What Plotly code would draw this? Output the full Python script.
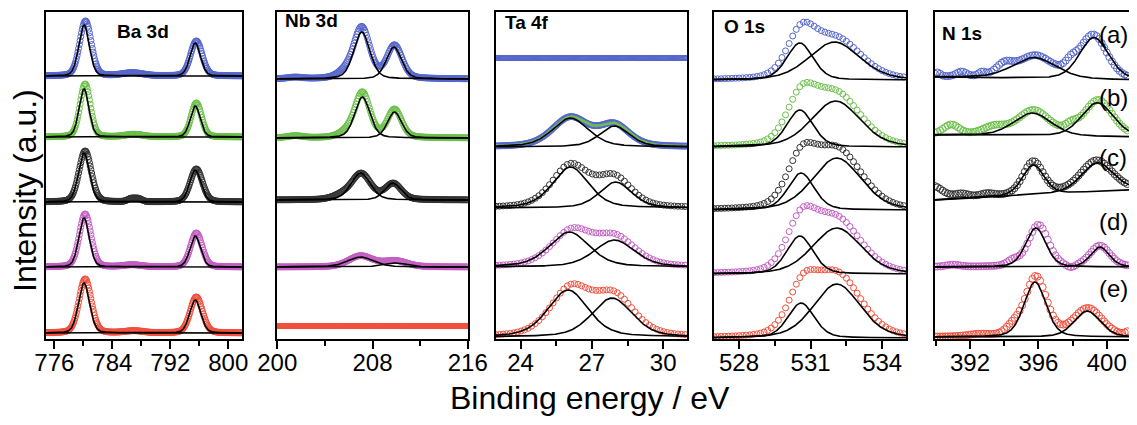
import numpy as np
import plotly.graph_objects as go

# ---------------- data ----------------
PANEL_NAMES = ["Ba 3d", "Nb 3d", "Ta 4f", "O 1s", "N 1s"]
SAMPLE_LABELS = ["(a)", "(b)", "(c)", "(d)", "(e)"]
SAMPLE_COLORS = ["#5566cc", "#6cc04a", "#333333", "#c45ec4", "#f0503c"]

# binding-energy windows (eV)
BA_RANGE = [774.85, 801.9]
NB_RANGE = [199.98, 216.02]
TA_RANGE = [22.97, 31.0]
O_RANGE = [526.95, 535.0]
N_RANGE = [389.95, 401.3]

# vertical offsets of the stacked spectra (a.u.)
BA_OFFSET = [263, 202, 137, 72, 6]
NB_OFFSET = [260, 201, 139, 72, 13]
TA_OFFSET = [281, 192, 131, 72, 2]
O_OFFSET = [259, 192, 129, 65, 1]
N_OFFSET = [262, 204, 139, 72, 2]

# linear background rise across the window (a.u.)
N_BG_RISE = [-3, -2, 10, 0, 0]

# fitted components: (centre eV, height a.u., FWHM eV)
BA_FIT = [
    [(780.1, 51, 1.7), (795.45, 33, 1.7)],
    [(780.1, 48, 1.6), (795.45, 31, 1.6)],
    [(780.1, 49, 1.8), (795.45, 32, 1.8)],
    [(780.1, 49, 1.7), (795.45, 31, 1.7)],
    [(780.1, 50, 1.8), (795.45, 33, 1.8)],
]
NB_FIT = [
    [(207.1, 47, 1.6), (209.8, 32, 1.5)],
    [(207.15, 41, 1.5), (209.85, 26, 1.4)],
    [(207.0, 27, 1.9), (209.7, 17, 1.6)],
    [(207.0, 10, 2.6), (209.9, 4, 2.4)],
    [],
]
TA_FIT = [
    [],
    [(26.1, 29, 1.8), (27.95, 21, 1.5)],
    [(26.1, 41, 1.8), (28.0, 26, 1.6)],
    [(26.05, 35, 2.0), (27.95, 27, 2.0)],
    [(26.0, 47, 2.0), (27.85, 39, 2.0)],
]
O_FIT = [
    [(530.55, 37, 1.3), (532.0, 38, 2.5)],
    [(530.55, 37, 1.3), (532.05, 46, 2.4)],
    [(530.6, 37, 1.3), (532.1, 52, 2.4)],
    [(530.55, 38, 1.3), (532.1, 46, 2.4)],
    [(530.6, 35, 1.3), (532.1, 54, 2.3)],
]
N_FIT = [
    [(395.75, 21, 3.0), (399.25, 42, 2.0)],
    [(395.65, 23, 2.6), (399.45, 34, 2.2)],
    [(395.7, 30, 1.5), (399.45, 29, 2.2)],
    [(395.85, 39, 1.4), (399.6, 20, 1.3)],
    [(395.8, 55, 1.5), (398.85, 26, 1.8)],
]

# measured spectra, described by the features seen in the markers
BA_DATA = [
    [(780.3, 55, 1.9), (795.6, 35, 1.9), (786.8, 3, 3.5)],
    [(780.25, 53, 1.7), (795.6, 34, 1.7), (787.0, 2.5, 3.0)],
    [(780.25, 51, 2.0), (795.6, 33, 2.0), (786.6, 3, 1.2), (787.6, 3, 1.2)],
    [(780.25, 53, 1.9), (795.6, 34, 1.9), (786.8, 2, 3.0)],
    [(780.25, 54, 2.0), (795.6, 36, 2.0), (787.0, 2, 3.0)],
]
NB_DATA = [
    [(207.1, 51, 1.6), (209.85, 33, 1.5), (205.7, 6, 1.6), (201.5, 1.5, 1.5)],
    [(207.15, 45, 1.5), (209.85, 28, 1.4), (205.8, 5, 1.5), (201.5, 2, 1.5)],
    [(207.05, 26, 1.9), (209.75, 16, 1.6), (205.4, 4, 1.8)],
    [(207.0, 11, 2.4), (209.9, 6, 2.4)],
    [],
]
TA_DATA = [
    [],
    [(26.1, 29, 1.8), (27.95, 21, 1.5)],
    [(26.1, 42, 1.85), (27.95, 29, 1.7)],
    [(26.15, 35, 2.0), (28.0, 28, 2.0)],
    [(26.1, 47, 2.0), (27.95, 39, 2.0)],
]
O_DATA = [
    [(530.6, 40, 1.4), (532.05, 41, 2.5)],
    [(530.6, 41, 1.45), (532.05, 53, 2.45)],
    [(530.6, 42, 1.45), (532.1, 60, 2.45)],
    [(530.6, 44, 1.45), (532.05, 55, 2.45)],
    [(530.65, 40, 1.45), (532.1, 63, 2.4)],
]
N_DATA = [
    [(395.8, 22, 2.4), (399.2, 44, 1.9), (391.5, 5, 0.7), (392.7, 4, 0.5),
     (394.0, 11, 1.2), (397.9, 8, 0.8), (390.1, 4, 0.4)],
    [(395.7, 25, 2.2), (399.5, 36, 2.0), (390.9, 10, 1.1), (393.4, 8, 1.6),
     (397.9, 6, 0.8)],
    [(395.7, 33, 1.4), (399.4, 31, 2.2), (389.8, 14, 1.4), (391.5, 4, 1.0),
     (393.0, 3, 1.0)],
    [(396.0, 42, 1.4), (399.6, 21, 1.4), (394.5, 5, 0.8), (391.0, 2, 1.0),
     (397.9, -3, 0.6)],
    [(395.85, 60, 1.5), (398.9, 28, 2.0), (394.5, 8, 1.0), (401.3, 4, 0.5),
     (392.5, 2, 1.5)],
]

# ---------------- drawing ----------------
PANELS = [
    dict(rng=BA_RANGE, off=BA_OFFSET, fit=BA_FIT, dat=BA_DATA, bg=[0] * 5,
         step=0.1, eta=0.2, t0=776, dt=8, mdt=4, msize=6),
    dict(rng=NB_RANGE, off=NB_OFFSET, fit=NB_FIT, dat=NB_DATA, bg=[0] * 5,
         step=0.08, eta=0.3, t0=200, dt=8, mdt=4, msize=6),
    dict(rng=TA_RANGE, off=TA_OFFSET, fit=TA_FIT, dat=TA_DATA, bg=[0] * 5,
         step=0.15, eta=0.4, t0=24, dt=3, mdt=1.5, msize=6),
    dict(rng=O_RANGE, off=O_OFFSET, fit=O_FIT, dat=O_DATA, bg=[0] * 5,
         step=0.15, eta=0.3, t0=528, dt=3, mdt=1.5, msize=6),
    dict(rng=N_RANGE, off=N_OFFSET, fit=N_FIT, dat=N_DATA, bg=N_BG_RISE,
         step=0.15, eta=0.3, t0=392, dt=4, mdt=2, msize=7),
]

# the page body adds an 8 px margin on every side; keep the figure inside
PAD = 8
SCREEN_W, SCREEN_H = 1137, 425
W, H = SCREEN_W - 2 * PAD, SCREEN_H - 2 * PAD
DOMAINS_PX = [(46, 242), (277, 468), (496, 687), (714, 906), (935, SCREEN_W - PAD)]
TOP, BOT = 12, 339  # screen y of plot top / bottom


def pvoigt(x, c, h, w, eta):
    u = (x - c) / w
    return h * ((1 - eta) * np.exp(-4 * np.log(2) * u * u) + eta / (1 + 4 * u * u))


fig = go.Figure()
FONT = "Liberation Sans, Arial, Helvetica, sans-serif"

for k, p in enumerate(PANELS):
    xa = "x" if k == 0 else f"x{k + 1}"
    ya = "y" if k == 0 else f"y{k + 1}"
    lo, hi = p["rng"]
    for s in range(5):
        flat = len(p["dat"][s]) == 0
        step = 0.04 if flat else p["step"]
        x = np.arange(lo, hi + 1e-9, step)
        yd = p["off"][s] + p["bg"][s] * (x - lo) / (hi - lo)
        for (c, h, w) in p["dat"][s]:
            yd = yd + pvoigt(x, c, h, w, p["eta"])
        if k == 2 and s == 1:
            xd = np.arange(lo, hi + 1e-9, 0.05)
            bd = p["off"][s] + 0 * xd
            for (c, h, w) in p["dat"][s]:
                bd = bd + pvoigt(xd, c, h, w, p["eta"])
            fig.add_trace(go.Scatter(x=xd, y=bd, mode="markers", xaxis=xa, yaxis=ya,
                                     marker=dict(symbol="circle-open", size=6,
                                                 color=SAMPLE_COLORS[0], line=dict(width=1)),
                                     showlegend=False, hoverinfo="skip"))
            fig.add_trace(go.Scatter(x=xd, y=bd, mode="lines", xaxis=xa, yaxis=ya,
                                     line=dict(color=SAMPLE_COLORS[1], width=2.5),
                                     showlegend=False, hoverinfo="skip"))
        else:
            fig.add_trace(go.Scatter(x=x, y=yd, mode="markers", xaxis=xa, yaxis=ya,
                                     marker=dict(symbol="circle-open",
                                                 size=5 if flat else p["msize"],
                                                 color=SAMPLE_COLORS[s], line=dict(width=1)),
                                     showlegend=False, hoverinfo="skip"))
    xf = np.linspace(lo, hi, 600)
    for s in range(5):
        bf = p["off"][s] + p["bg"][s] * (xf - lo) / (hi - lo)
        for (c, h, w) in p["fit"][s]:
            fig.add_trace(go.Scatter(x=xf, y=bf + pvoigt(xf, c, h, w, p["eta"]),
                                     mode="lines", xaxis=xa, yaxis=ya,
                                     line=dict(color="black", width=1.6),
                                     showlegend=False, hoverinfo="skip"))

    x0, x1 = DOMAINS_PX[k]
    axx = dict(domain=[(x0 - PAD) / W, min((x1 - PAD) / W, 1.0)], range=[lo, hi],
               anchor=ya, showgrid=False, zeroline=False, showline=True,
               linecolor="black", linewidth=2, mirror=True, ticks="outside",
               ticklen=8, tickwidth=2, tickcolor="black", tick0=p["t0"], dtick=p["dt"],
               ticklabelstandoff=-7,
               tickfont=dict(family=FONT, size=24, color="black"),
               minor=dict(ticks="outside", ticklen=5, tickwidth=2, tickcolor="black",
                          tick0=p["t0"], dtick=p["mdt"], showgrid=False))
    axy = dict(domain=[0, 1], range=[0, BOT - TOP], anchor=xa, showgrid=False,
               zeroline=False, showline=True, linecolor="black", linewidth=2,
               mirror=(k < 4), showticklabels=False, ticks="")
    fig.update_layout(**{("xaxis" if k == 0 else f"xaxis{k + 1}"): axx,
                         ("yaxis" if k == 0 else f"yaxis{k + 1}"): axy})


def px(xs):
    return (xs - PAD) / W


def py(ys):
    return (BOT - ys) / (BOT - TOP)


ann = []
label_pos = [(115, 31), (283, 20), (503, 23), (722, 27), (940, 34)]
for name, (lx, ly) in zip(PANEL_NAMES, label_pos):
    ann.append(dict(x=px(lx), y=py(ly), xref="paper", yref="paper", text=f"<b>{name}</b>",
                    showarrow=False, xanchor="left", yanchor="middle",
                    font=dict(family=FONT, size=19, color="black")))
for lab, ly in zip(SAMPLE_LABELS, [35, 97, 158, 222, 288]):
    ann.append(dict(x=px(1113), y=py(ly), xref="paper", yref="paper", text=lab,
                    showarrow=False, xanchor="center", yanchor="middle",
                    font=dict(family=FONT, size=24, color="black")))
ann.append(dict(x=px(590), y=py(398), xref="paper", yref="paper",
                text="Binding energy / eV", showarrow=False, xanchor="center",
                yanchor="middle", font=dict(family=FONT, size=32, color="black")))
ann.append(dict(x=px(25), y=py(191), xref="paper", yref="paper",
                text="Intensity (a.u.)", showarrow=False, textangle=-90,
                xanchor="center", yanchor="middle",
                font=dict(family=FONT, size=32, color="black")))

fig.update_layout(width=W, height=H,
                  margin=dict(l=0, r=0, t=TOP - PAD, b=H - (BOT - PAD), pad=0,
                              autoexpand=False),
                  paper_bgcolor="white", plot_bgcolor="white", annotations=ann,
                  showlegend=False)
fig.write_html("out.html")
